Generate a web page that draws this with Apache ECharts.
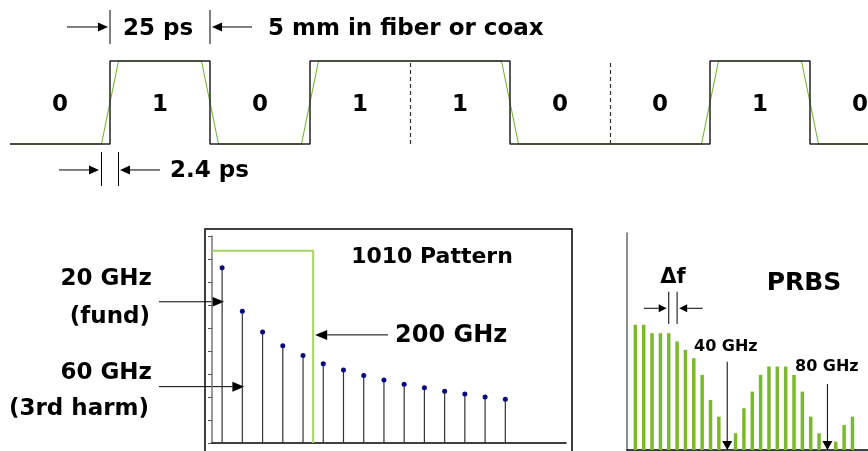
<!DOCTYPE html>
<html lang="en">
<head>
<meta charset="UTF-8">
<title>NRZ bits and spectrum</title>
<script src="https://cdn.jsdelivr.net/npm/echarts@6/dist/echarts.min.js"></script>
<style>
  html, body { margin: 0; padding: 0; background: #fff; }
  #main { width: 868px; height: 451px; }
</style>
</head>
<body>
<div id="main"></div>
<script>
// top: bit stream, 25 ps per bit
var bits = [0, 1, 0, 1, 1, 0, 0, 1, 0];
var bitPeriod = 25;       // ps
var edgeTime = 4.25;      // ps, full width of the green slewed edge
var timeEnd = 214.5;      // ps shown at the right edge

// bottom left: 1010 pattern, odd harmonics
var harmFreq = [20, 60, 100, 140, 180, 220, 260, 300, 340, 380, 420, 460, 500, 540, 580]; // GHz
var harmLevel = [7.62, 5.73, 4.83, 4.23, 3.80, 3.45, 3.17, 2.93, 2.74, 2.55, 2.40, 2.25, 2.13, 2.00, 1.90];
var bandEdge = 200;       // GHz
var bandLevel = 8.36;

// bottom right: PRBS lines, one per delta f
var prbsLevel = [15, 15, 14, 14, 14, 13, 12, 11, 9, 6, 4, 0, 2, 5, 7, 9, 10, 10, 10, 9, 7, 4, 2, 0, 1, 3, 4];
var prbsNulls = [12, 24];
var prbsNullNames = ['40 GHz', '80 GHz'];

var FONT = '"DejaVu Sans", "Liberation Sans", Arial, sans-serif';

// square wave and its slewed version
var squareWave = [];
bits.forEach(function (b, i) {
    squareWave.push([i * bitPeriod, b], [Math.min((i + 1) * bitPeriod, timeEnd), b]);
});
var slewWave = [[0, bits[0]]];
var sameBitMarks = [];
for (var i = 1; i < bits.length; i++) {
    if (bits[i] !== bits[i - 1]) {
        slewWave.push([i * bitPeriod - edgeTime / 2, bits[i - 1]], [i * bitPeriod + edgeTime / 2, bits[i]]);
    } else {
        sameBitMarks.push([{ coord: [i * bitPeriod, 0] }, { coord: [i * bitPeriod, 1] }]);
    }
}
slewWave.push([timeEnd, bits[bits.length - 1]]);

var hidden = { show: false };
var chart = echarts.init(document.getElementById('main'));

var option = {
    animation: false,
    grid: [
        { left: 10, top: 0, width: 858, height: 200 },
        { left: 212, top: 236, width: 354, height: 207 },
        { left: 627, top: 233, width: 241, height: 217 }
    ],
    xAxis: [
        { gridIndex: 0, type: 'value', min: 0, max: timeEnd, show: false },
        {
            gridIndex: 1, type: 'value', min: 0, max: 700,
            axisLine: { lineStyle: { color: '#000', width: 1.5 } },
            axisTick: hidden, axisLabel: hidden, splitLine: hidden
        },
        {
            gridIndex: 2, type: 'value', min: 0, max: 28.86,
            axisLine: { lineStyle: { color: '#000', width: 1.5 } },
            axisTick: hidden, axisLabel: hidden, splitLine: hidden
        }
    ],
    yAxis: [
        { gridIndex: 0, type: 'value', min: -0.675, max: 1.735, show: false },
        {
            gridIndex: 1, type: 'value', min: 0, max: 9, interval: 1,
            axisLine: { show: true, lineStyle: { color: '#777', width: 1.5 } },
            axisTick: { show: true, length: 4, lineStyle: { color: '#555' } },
            axisLabel: hidden, splitLine: hidden
        },
        {
            gridIndex: 2, type: 'value', min: 0, max: 26,
            axisLine: { show: true, lineStyle: { color: '#666', width: 1.5 } },
            axisTick: hidden, axisLabel: hidden, splitLine: hidden
        }
    ],
    series: [
        {
            type: 'line', xAxisIndex: 0, yAxisIndex: 0, data: slewWave,
            symbol: 'none', lineStyle: { color: '#6fae2a', width: 1 }, z: 2
        },
        {
            type: 'line', xAxisIndex: 0, yAxisIndex: 0, data: squareWave,
            symbol: 'none', lineStyle: { color: '#222', width: 1.5 }, z: 3,
            markLine: {
                silent: true, symbol: ['none', 'none'], label: hidden,
                lineStyle: { color: '#333', width: 1.2, type: [4, 3] },
                data: sameBitMarks
            }
        },
        {
            type: 'scatter', xAxisIndex: 0, yAxisIndex: 0, symbolSize: 0,
            itemStyle: { opacity: 1 },
            data: bits.map(function (b, i) { return [i * bitPeriod + bitPeriod / 2, 0.5, b]; }),
            label: {
                show: true, position: 'inside', offset: [0, 3],
                formatter: function (p) { return p.value[2]; },
                fontFamily: FONT, fontWeight: 'bold', fontSize: 23, color: '#000'
            }
        },
        {
            type: 'line', xAxisIndex: 1, yAxisIndex: 1, symbol: 'none',
            data: [[0, bandLevel], [bandEdge, bandLevel], [bandEdge, 0]],
            lineStyle: { color: '#a5d36a', width: 2 }
        },
        {
            type: 'bar', xAxisIndex: 1, yAxisIndex: 1, barWidth: 1.2,
            data: harmFreq.map(function (f, i) { return [f, harmLevel[i]]; }),
            itemStyle: { color: '#333' }
        },
        {
            type: 'scatter', xAxisIndex: 1, yAxisIndex: 1, symbolSize: 5,
            data: harmFreq.map(function (f, i) { return [f, harmLevel[i]]; }),
            itemStyle: { color: '#0a0a80', opacity: 1 }, z: 4
        },
        {
            type: 'bar', xAxisIndex: 2, yAxisIndex: 2, barWidth: 3.5,
            data: prbsLevel.map(function (v, i) { return [i + 1, v]; }),
            itemStyle: { color: '#7cb82c' }
        }
    ]
};
chart.setOption(option);

// annotations, anchored on the data scales
function at(g, pt) { return chart.convertToPixel({ gridIndex: g }, pt); }
function seg(a, b) {
    return { type: 'line', shape: { x1: a[0], y1: a[1], x2: b[0], y2: b[1] }, style: { stroke: '#000', lineWidth: 1 } };
}
function arrow(a, b, hl, hw) {
    hl = hl || 10; hw = hw || 4.5;
    var dx = b[0] - a[0], dy = b[1] - a[1], len = Math.sqrt(dx * dx + dy * dy);
    var ux = dx / len, uy = dy / len;
    var bx = b[0] - ux * hl, by = b[1] - uy * hl;
    return [
        seg(a, [bx, by]),
        { type: 'polygon', shape: { points: [[b[0], b[1]], [bx - uy * hw, by + ux * hw], [bx + uy * hw, by - ux * hw]] }, style: { fill: '#000' } }
    ];
}
function text(str, x, y, size, align) {
    return {
        type: 'text', x: x, y: y,
        style: { text: str, fontFamily: FONT, fontWeight: 'bold', fontSize: size, fill: '#000', align: align || 'left', verticalAlign: 'middle' }
    };
}

var g = [];
// bit period markers
[bitPeriod, 2 * bitPeriod].forEach(function (t) { g.push(seg(at(0, [t, 1.205]), at(0, [t, 1.614]))); });
g = g.concat(arrow(at(0, [14.25, 1.41]), at(0, [24.5, 1.41])));
g = g.concat(arrow(at(0, [60.5, 1.41]), at(0, [50.5, 1.41])));
// edge time markers
[bitPeriod - edgeTime / 2, bitPeriod + edgeTime / 2].forEach(function (t) { g.push(seg(at(0, [t, -0.096]), at(0, [t, -0.506]))); });
g = g.concat(arrow(at(0, [12.25, -0.313]), at(0, [22.25, -0.313])));
g = g.concat(arrow(at(0, [37.5, -0.313]), at(0, [27.5, -0.313])));

// 1010 pattern pointers
g = g.concat(arrow(at(1, [-104.8, 6.14]), at(1, [harmFreq[0] + 4, 6.14]), 12, 5));
g = g.concat(arrow(at(1, [-104.8, 2.45]), at(1, [harmFreq[1] + 4, 2.45]), 12, 5));
g = g.concat(arrow(at(1, [348, 4.70]), at(1, [bandEdge + 4, 4.70]), 12, 5));

// PRBS delta f and nulls
[5, 6].forEach(function (n) { g.push(seg(at(2, [n, 15.1]), at(2, [n, 18.97]))); });
g = g.concat(arrow(at(2, [2.04, 16.98]), at(2, [4.75, 16.98]), 8, 4));
g = g.concat(arrow(at(2, [9.07, 16.98]), at(2, [6.25, 16.98]), 8, 4));
g = g.concat(arrow(at(2, [prbsNulls[0], 10.58]), at(2, [prbsNulls[0], 0]), 9, 5));
g = g.concat(arrow(at(2, [prbsNulls[1], 7.9]), at(2, [prbsNulls[1], 0]), 9, 5));

// frame around the 1010 plot
g.push({ type: 'rect', shape: { x: 205, y: 229, width: 367, height: 240 }, style: { fill: 'none', stroke: '#000', lineWidth: 1.5 } });

// text
g.push(text('25 ps', 158, 29, 23, 'center'));
g.push(text('5 mm in fiber or coax', 268, 29, 23));
g.push(text('2.4 ps', 170, 171, 23));
g.push(text('1010 Pattern', 432, 257, 22, 'center'));
g.push(text('200 GHz', 395, 336, 24));
g.push(text('20 GHz', 152, 279, 23, 'right'));
g.push(text('(fund)', 150, 317, 23, 'right'));
g.push(text('60 GHz', 152, 373, 23, 'right'));
g.push(text('(3rd harm)', 149, 409, 23, 'right'));
g.push(text('\u0394f', 673, 278, 21, 'center'));
g.push(text('PRBS', 804, 283, 25, 'center'));
g.push(text(prbsNullNames[0], 694, 347, 16));
g.push(text(prbsNullNames[1], 795, 367, 16));

chart.setOption({ graphic: { elements: g.map(function (e) { e.silent = true; return e; }) } });
</script>
</body>
</html>
